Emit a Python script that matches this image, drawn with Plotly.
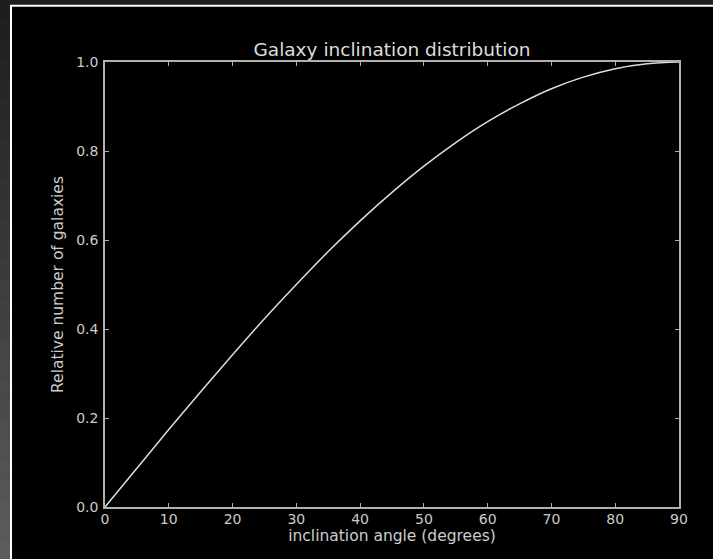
import plotly.graph_objects as go

# Data
angle_deg = [0, 5, 10, 15, 20, 25, 30, 35, 40, 45, 50, 55, 60, 65, 70, 75, 80, 85, 90]
rel_number = [0.0, 0.087, 0.174, 0.259, 0.342, 0.423, 0.5, 0.574, 0.643, 0.707,
              0.766, 0.819, 0.866, 0.906, 0.940, 0.966, 0.985, 0.996, 1.0]
x_ticks = [0, 10, 20, 30, 40, 50, 60, 70, 80, 90]
y_ticks = [0.0, 0.2, 0.4, 0.6, 0.8, 1.0]

W, H = 713, 559
L, R, T, B = 105, 679, 62, 507
FONT = "DejaVu Sans"


def px(x):
    return (x - L) / (R - L)


def py(y):
    return (B - y) / (B - T)


fig = go.Figure()
fig.add_trace(go.Scatter(
    x=angle_deg, y=rel_number, mode="lines",
    line=dict(color="#dddddd", width=1.5, shape="spline"),
    showlegend=False, hoverinfo="skip"))

shapes = []
# left gradient strip
n = 28
for i in range(n):
    y0 = H * i / n
    y1 = H * (i + 1) / n
    g = int(0x1e + (0x5c - 0x1e) * i / (n - 1))
    col = f"rgb({g},{g},{g})"
    shapes.append(dict(type="rect", xref="paper", yref="paper",
                       x0=px(-1), x1=px(10.5), y0=py(y1 + 0.5), y1=py(y0),
                       fillcolor=col, line=dict(width=0), layer="above"))
# top strip
shapes.append(dict(type="rect", xref="paper", yref="paper",
                   x0=px(10), x1=px(W + 2), y0=py(5), y1=py(-2),
                   fillcolor="#1e1e1e", line=dict(width=0), layer="above"))
# white border lines
shapes.append(dict(type="line", xref="paper", yref="paper",
                   x0=px(10), x1=px(W + 2), y0=py(5.8), y1=py(5.8),
                   line=dict(color="#ffffff", width=2), layer="above"))
shapes.append(dict(type="line", xref="paper", yref="paper",
                   x0=px(11), x1=px(11), y0=py(5), y1=py(H + 2),
                   line=dict(color="#ffffff", width=2), layer="above"))

axis_common = dict(
    showgrid=False, zeroline=False, showline=True, linecolor="#b0b0b0", linewidth=1.5,
    mirror="ticks", ticks="inside", ticklen=4, tickcolor="#b0b0b0", tickwidth=1,
    tickfont=dict(family=FONT, size=14, color="#cccccc"),
)

fig.update_layout(
    width=W, height=H,
    margin=dict(l=L, r=W - R, t=T, b=H - B),
    paper_bgcolor="#000000", plot_bgcolor="#000000",
    title=dict(text="Galaxy inclination distribution", x=(L + R) / 2 / W, xanchor="center",
               y=1 - 50 / H, yanchor="middle",
               font=dict(family=FONT, size=18.5, color="#dddddd")),
    xaxis=dict(range=[0, 90], tickvals=x_ticks, ticktext=[str(v) for v in x_ticks],
               ticklabelstandoff=-2,
               title=dict(text="inclination angle (degrees)", standoff=3,
                          font=dict(family=FONT, size=15.5, color="#cccccc")),
               **axis_common),
    yaxis=dict(range=[0, 1], tickvals=y_ticks, ticktext=[f"{v:.1f}" for v in y_ticks],
               ticklabelstandoff=2,
               title=dict(text="Relative number of galaxies", standoff=9,
                          font=dict(family=FONT, size=15.5, color="#cccccc")),
               **axis_common),
    shapes=shapes,
)

fig.write_html("out.html")
